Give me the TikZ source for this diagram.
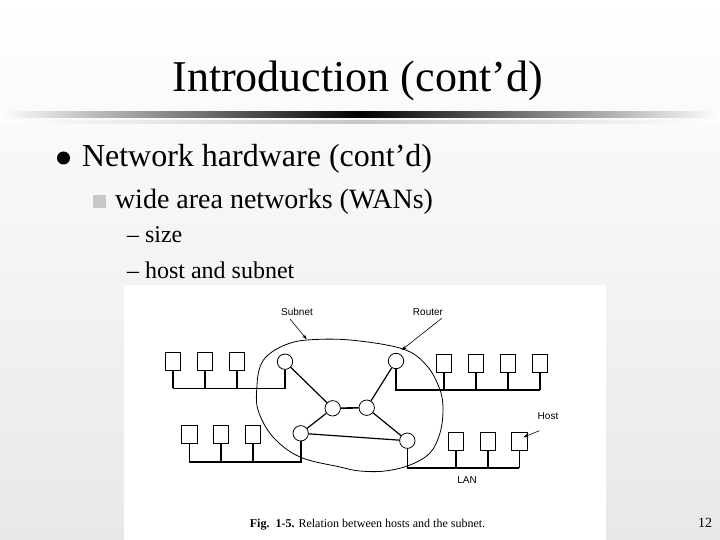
\documentclass[tikz,border=0pt]{standalone}
\usepackage{fontspec}
\setmainfont{Liberation Serif}
\newfontfamily\labelfont{Liberation Sans}
\usetikzlibrary{arrows.meta}
\newcommand{\fsz}[1]{\fontsize{#1}{#1}\selectfont}
\begin{document}
\begin{tikzpicture}[x=1pt,y=-1pt,
  txt/.style={inner sep=0pt,outer sep=0pt,anchor=base west},
  router/.style={circle,draw,line width=0.8pt,minimum size=15.4pt,inner sep=0pt,fill=white},
  hostbox/.style={rectangle,draw,line width=0.8pt,minimum width=15.5pt,minimum height=18pt,inner sep=0pt},
  bus/.style={line width=1.6pt},
  link/.style={line width=1.2pt},
  lbl/.style={inner sep=0pt,font=\labelfont\fsz{10}},
  pointer/.style={line width=0.6pt,-{Stealth[length=5pt,width=3.5pt]}}]
\useasboundingbox (0,0) rectangle (720,540);
% background
\shade[top color=white,bottom color=black!9] (0,0) rectangle (720,540);
% title rule
\shade[left color=white,right color=white,middle color=black] (0,112) rectangle (720,118);
\shade[left color=white,right color=white,middle color=black!22] (0,121) rectangle (720,124);
% figure panel
\fill[white] (124,285) rectangle (606,540);
% texts
\node[txt,anchor=base] (title) at (357.5,92) {\fsz{44}Introduction (cont’d)};
\fill[black] (63.5,158) circle (6.5pt);
\node[txt] (l1) at (82,167) {\fsz{32}Network hardware (cont’d)};
\fill[black!22] (93,195) rectangle (106,208);
\node[txt] (l2) at (115,208) {\fsz{28}wide area networks (WANs)};
\node[txt] (l3) at (127,243) {\fsz{24}– size};
\node[txt] (l4) at (127,278) {\fsz{24}– host and subnet};
\node[txt,anchor=base east] (pg) at (712,527) {\fsz{14}12};
% subnet blob
\draw[line width=0.8pt] plot[smooth cycle,tension=0.6] coordinates {
 (268,355) (285,345) (307,340) (350,340) (403,349) (427,366) (440,390) (443,410)
 (440,433) (430,453) (410,465) (385,471) (360,471) (340,467) (300,457) (273,437)
 (258,410) (257,385) (260,367)};
% routers
\node[router] (R1) at (285,361.7) {};
\node[router] (R2) at (396,361) {};
\node[router] (R3) at (332.7,408.3) {};
\node[router] (R4) at (366.7,407.7) {};
\node[router] (R5) at (300.7,433.3) {};
\node[router] (R6) at (407.3,440.7) {};
\draw[link] (R1) -- (R3);
\draw[link] (R2) -- (R4);
\draw[bus] (R3) -- (R4);
\draw[link] (R3) -- (R5);
\draw[link] (R4) -- (R6);
\draw[link] (R5) -- (R6);
% hosts top-left
\node[hostbox] (a1) at (172.7,361.7) {};
\node[hostbox] (a2) at (205,361.7) {};
\node[hostbox] (a3) at (237,361.7) {};
\coordinate (ba) at (172.7,388.3);
\draw[bus] (R1.south) |- (ba);
\foreach \h in {a1,a2,a3} \draw[bus] (\h.south) -- (\h.south |- ba);
% hosts top-right
\node[hostbox] (b1) at (444,363.8) {};
\node[hostbox] (b2) at (475.7,363.8) {};
\node[hostbox] (b3) at (508,363.8) {};
\node[hostbox] (b4) at (540,363.8) {};
\coordinate (bb) at (540,390);
\draw[bus] (R2.south) |- (bb);
\foreach \h in {b1,b2,b3,b4} \draw[bus] (\h.south) -- (\h.south |- bb);
% hosts bottom-left
\node[hostbox] (c1) at (189.3,434.2) {};
\node[hostbox] (c2) at (221,434.2) {};
\node[hostbox] (c3) at (252.7,434.2) {};
\coordinate (bc) at (189.3,461.7);
\draw[bus] (R5.south) |- (bc);
\foreach \h in {c1,c2,c3} \draw[bus] (\h.south) -- (\h.south |- bc);
% hosts bottom-right
\node[hostbox] (d1) at (456,441) {};
\node[hostbox] (d2) at (487.7,441) {};
\node[hostbox] (d3) at (519.3,441) {};
\coordinate (bd) at (519.3,467.7);
\draw[bus] (R6.south) |- (bd);
\foreach \h in {d1,d2,d3} \draw[bus] (\h.south) -- (\h.south |- bd);
% labels
\node[lbl] (subnet) at (297,312) {Subnet};
\node[lbl] (router) at (428,312) {Router};
\node[lbl] (host) at (548,416) {Host};
\node[lbl] (lan) at (467,480) {LAN};
\coordinate (subtip) at (306.7,339.3);
\coordinate (rtip) at (401.7,350);
\coordinate (htip) at (523.3,437.3);
\draw[pointer] (290,319) -- (subtip);
\draw[pointer] (441.7,318.3) -- (rtip);
\draw[pointer] (539.3,430.7) -- (htip);
% caption
\node[inner sep=0pt,anchor=base] (cap) at (367.5,527) {\fsz{12}\textbf{Fig.\ \ 1-5.} Relation between hosts and the subnet.};
\end{tikzpicture}
\end{document}
